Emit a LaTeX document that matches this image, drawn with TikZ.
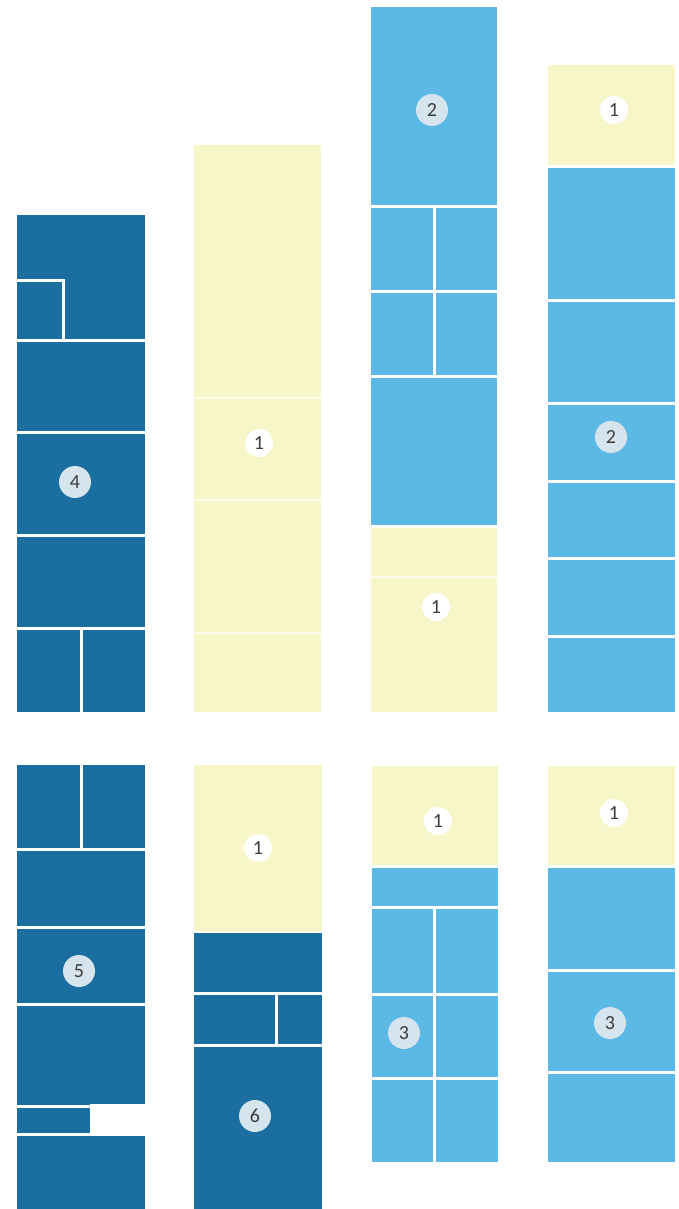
\documentclass[tikz,border=0pt]{standalone}
\usepackage{fontspec}
\setmainfont{Carlito}
\definecolor{dkblue}{RGB}{26,110,160}
\definecolor{ltblue}{RGB}{92,184,229}
\definecolor{pale}{RGB}{246,246,200}
\definecolor{badgebg}{RGB}{214,228,238}
\definecolor{digit}{RGB}{60,60,60}
\tikzset{
  dk/.style={fill=dkblue},
  lt/.style={fill=ltblue},
  yl/.style={fill=pale},
  sep/.style={draw=white,line width=3pt},
  ysep/.style={draw=white,line width=2.5pt,opacity=0.6},
  badge/.style={circle,fill=badgebg,minimum size=32pt,inner sep=0pt,text=digit,font=\fontsize{20}{20}\selectfont},
  wbadge/.style={circle,fill=white,minimum size=28pt,inner sep=0pt,text=digit,font=\fontsize{20}{20}\selectfont}
}
\begin{document}
\begin{tikzpicture}[x=1pt,y=-1pt]
\useasboundingbox[fill=white] (0,0) rectangle (678,1209);
% ---------- top row ----------
% column 1
\path[dk] (17,215) rectangle (145,712);
\path[sep] (17,280) -- (63,280) -- (63,340);
\foreach \y in {340,432,535,628} \path[sep] (17,\y) -- (145,\y);
\path[sep] (81,628) -- (81,712);
\node[badge] (b4) at (75,482) {4};
% column 2
\path[yl] (194,145) rectangle (321,712);
\foreach \y in {398,500,633} \path[ysep] (194,\y) -- (321,\y);
\node[wbadge] (b1a) at (259,443) {1};
% column 3
\path[lt] (371,7) rectangle (497,525);
\path[sep] (371,206) -- (497,206);
\path[sep] (371,291) -- (497,291);
\path[sep] (371,376) -- (497,376);
\path[sep] (434,206) -- (434,376);
\node[badge] (b2a) at (432,110) {2};
\path[yl] (371,528) rectangle (497,712);
\path[ysep] (371,577) -- (497,577);
\node[wbadge] (b1b) at (436,607) {1};
% column 4
\path[yl] (548,65) rectangle (675,165);
\node[wbadge] (b1c) at (614,110) {1};
\path[lt] (548,168) rectangle (675,712);
\foreach \y in {300,403,481,558,636} \path[sep] (548,\y) -- (675,\y);
\node[badge] (b2b) at (611,437) {2};
% ---------- bottom row ----------
% column 1
\path[dk] (17,765) rectangle (145,1209);
\path[sep] (81,765) -- (81,849);
\foreach \y in {849,927,1004,1106,1134} \path[sep] (17,\y) -- (145,\y);
\path[fill=white] (90,1104) rectangle (146,1136);
\node[badge] (b5) at (79,971) {5};
% column 2
\path[yl] (194,765) rectangle (322,931);
\node[wbadge] (b1d) at (258,848) {1};
\path[dk] (194,933) rectangle (322,1209);
\path[sep] (194,993) -- (322,993);
\path[sep] (194,1045) -- (322,1045);
\path[sep] (276,993) -- (276,1045);
\node[badge] (b6) at (255,1116) {6};
% column 3
\path[yl] (372,766) rectangle (498,865);
\node[wbadge] (b1e) at (438,821) {1};
\path[lt] (372,868) rectangle (498,1162);
\foreach \y in {907,994,1078} \path[sep] (372,\y) -- (498,\y);
\path[sep] (434,907) -- (434,1162);
\node[badge] (b3a) at (404,1033) {3};
% column 4
\path[yl] (548,766) rectangle (675,865);
\node[wbadge] (b1f) at (614,813) {1};
\path[lt] (548,868) rectangle (675,1162);
\foreach \y in {970,1072} \path[sep] (548,\y) -- (675,\y);
\node[badge] (b3b) at (610,1023) {3};
\end{tikzpicture}
\end{document}
